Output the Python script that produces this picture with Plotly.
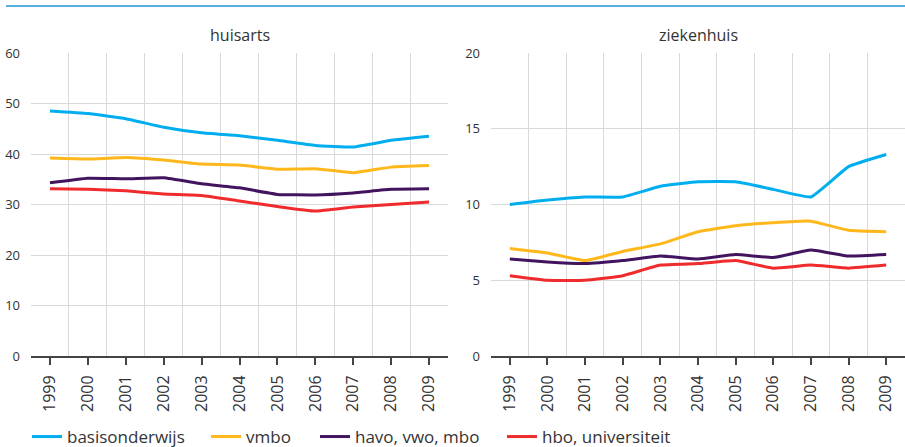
import plotly.graph_objects as go

# Jaartallen op de x-as
years = list(range(1999, 2010))

# Percentages per opleidingsniveau: huisarts
huisarts_basis = [48.5, 48.0, 47.0, 45.3, 44.2, 43.6, 42.7, 41.7, 41.4, 42.7, 43.5]
huisarts_vmbo = [39.2, 39.0, 39.3, 38.8, 38.0, 37.8, 37.0, 37.1, 36.3, 37.4, 37.7]
huisarts_havo = [34.3, 35.2, 35.1, 35.3, 34.1, 33.3, 32.0, 31.9, 32.3, 33.0, 33.1]
huisarts_hbo = [33.1, 33.0, 32.7, 32.1, 31.8, 30.7, 29.6, 28.7, 29.5, 30.0, 30.5]

# Percentages per opleidingsniveau: ziekenhuis
zkh_basis = [10.0, 10.3, 10.5, 10.5, 11.2, 11.5, 11.5, 11.0, 10.5, 12.5, 13.3]
zkh_vmbo = [7.1, 6.8, 6.3, 6.9, 7.4, 8.2, 8.6, 8.8, 8.9, 8.3, 8.2]
zkh_havo = [6.4, 6.2, 6.1, 6.3, 6.6, 6.4, 6.7, 6.5, 7.0, 6.6, 6.7]
zkh_hbo = [5.3, 5.0, 5.0, 5.3, 6.0, 6.1, 6.3, 5.8, 6.0, 5.8, 6.0]

series_names = ["basisonderwijs", "vmbo", "havo, vwo, mbo", "hbo, universiteit"]
series_colors = ["#00aeef", "#ffb81c", "#42145f", "#ef2b2d"]

huisarts_ticks = [0, 10, 20, 30, 40, 50, 60]
zkh_ticks = [0, 5, 10, 15, 20]

W, H = 905, 447
FONT = "Open Sans"
TEXT = "#333333"
GRID = "#d9d9d9"

# one legend box per series so each entry sits at its own position
legend_ids = ["legend", "legend2", "legend3", "legend4"]
legend_x = [27, 206, 315, 502]

fig = go.Figure()

panels = [
    ("x", "y", [huisarts_basis, huisarts_vmbo, huisarts_havo, huisarts_hbo]),
    ("x2", "y2", [zkh_basis, zkh_vmbo, zkh_havo, zkh_hbo]),
]
for p, (xa, ya, data) in enumerate(panels):
    for name, color, vals, lid in zip(series_names, series_colors, data, legend_ids):
        fig.add_trace(go.Scatter(
            x=years, y=vals, mode="lines", name=name,
            line=dict(color=color, width=3, shape="spline", smoothing=0.35),
            xaxis=xa, yaxis=ya, showlegend=(p == 0), legend=lid,
        ))

boundaries = [y - 0.5 for y in years] + [years[-1] + 0.5]

ydom = [1 - 356 / H, 1 - 53 / H]
xdoms = [[31 / W, 448 / W], [491 / W, 1.0]]

for i, (dom, ticks) in enumerate(zip(xdoms, [huisarts_ticks, zkh_ticks])):
    sfx = "" if i == 0 else str(i + 1)
    fig.layout["xaxis" + sfx] = dict(
        domain=dom, anchor="y" + sfx, range=[1998.5, 2009.5],
        tickmode="array", tickvals=years, ticktext=[str(y) for y in years],
        tickangle=-90, ticks="outside", ticklen=7, tickwidth=2, tickcolor="#444444",
        ticklabelstandoff=4,
        showgrid=False, zeroline=False, automargin=False,
        showline=True, linecolor="#444444", linewidth=2,
        minor=dict(tickmode="array", tickvals=boundaries, showgrid=True,
                   gridcolor=GRID, gridwidth=1, ticklen=0),
        tickfont=dict(family=FONT, size=16, color=TEXT),
        fixedrange=True,
    )
    fig.layout["yaxis" + sfx] = dict(
        domain=ydom, anchor="x" + sfx, range=[0, ticks[-1]],
        tickmode="array", tickvals=ticks, showgrid=True, gridcolor=GRID, gridwidth=1,
        zeroline=False, showline=False, ticks="", ticklabelstandoff=10,
        automargin=False,
        tickfont=dict(family=FONT, size=13, color=TEXT),
        fixedrange=True,
    )

# Paneeltitels
for dom, title in zip(xdoms, ["huisarts", "ziekenhuis"]):
    fig.add_annotation(
        x=(dom[0] + dom[1]) / 2, y=1 - 35 / H, xref="paper", yref="paper",
        text=title, showarrow=False, xanchor="center", yanchor="middle",
        font=dict(family=FONT, size=16, color=TEXT),
    )

# Blauwe lijn boven de figuur
fig.add_shape(type="line", xref="paper", yref="paper",
              x0=6 / W, x1=1.0, y0=1 - 6 / H, y1=1 - 6 / H,
              line=dict(color="#5aaddf", width=2))

legend_style = dict(orientation="h", xanchor="left", y=1 - 437 / H, yanchor="middle",
                    font=dict(family=FONT, size=17, color=TEXT),
                    itemwidth=30, bgcolor="rgba(0,0,0,0)")
legend_layout = {lid: dict(legend_style, x=lx / W) for lid, lx in zip(legend_ids, legend_x)}

fig.update_layout(
    width=W, height=H, margin=dict(l=0, r=0, t=0, b=0, autoexpand=False),
    paper_bgcolor="white", plot_bgcolor="white",
    font=dict(family=FONT, color=TEXT),
    **legend_layout,
)

fig.write_html("out.html")
